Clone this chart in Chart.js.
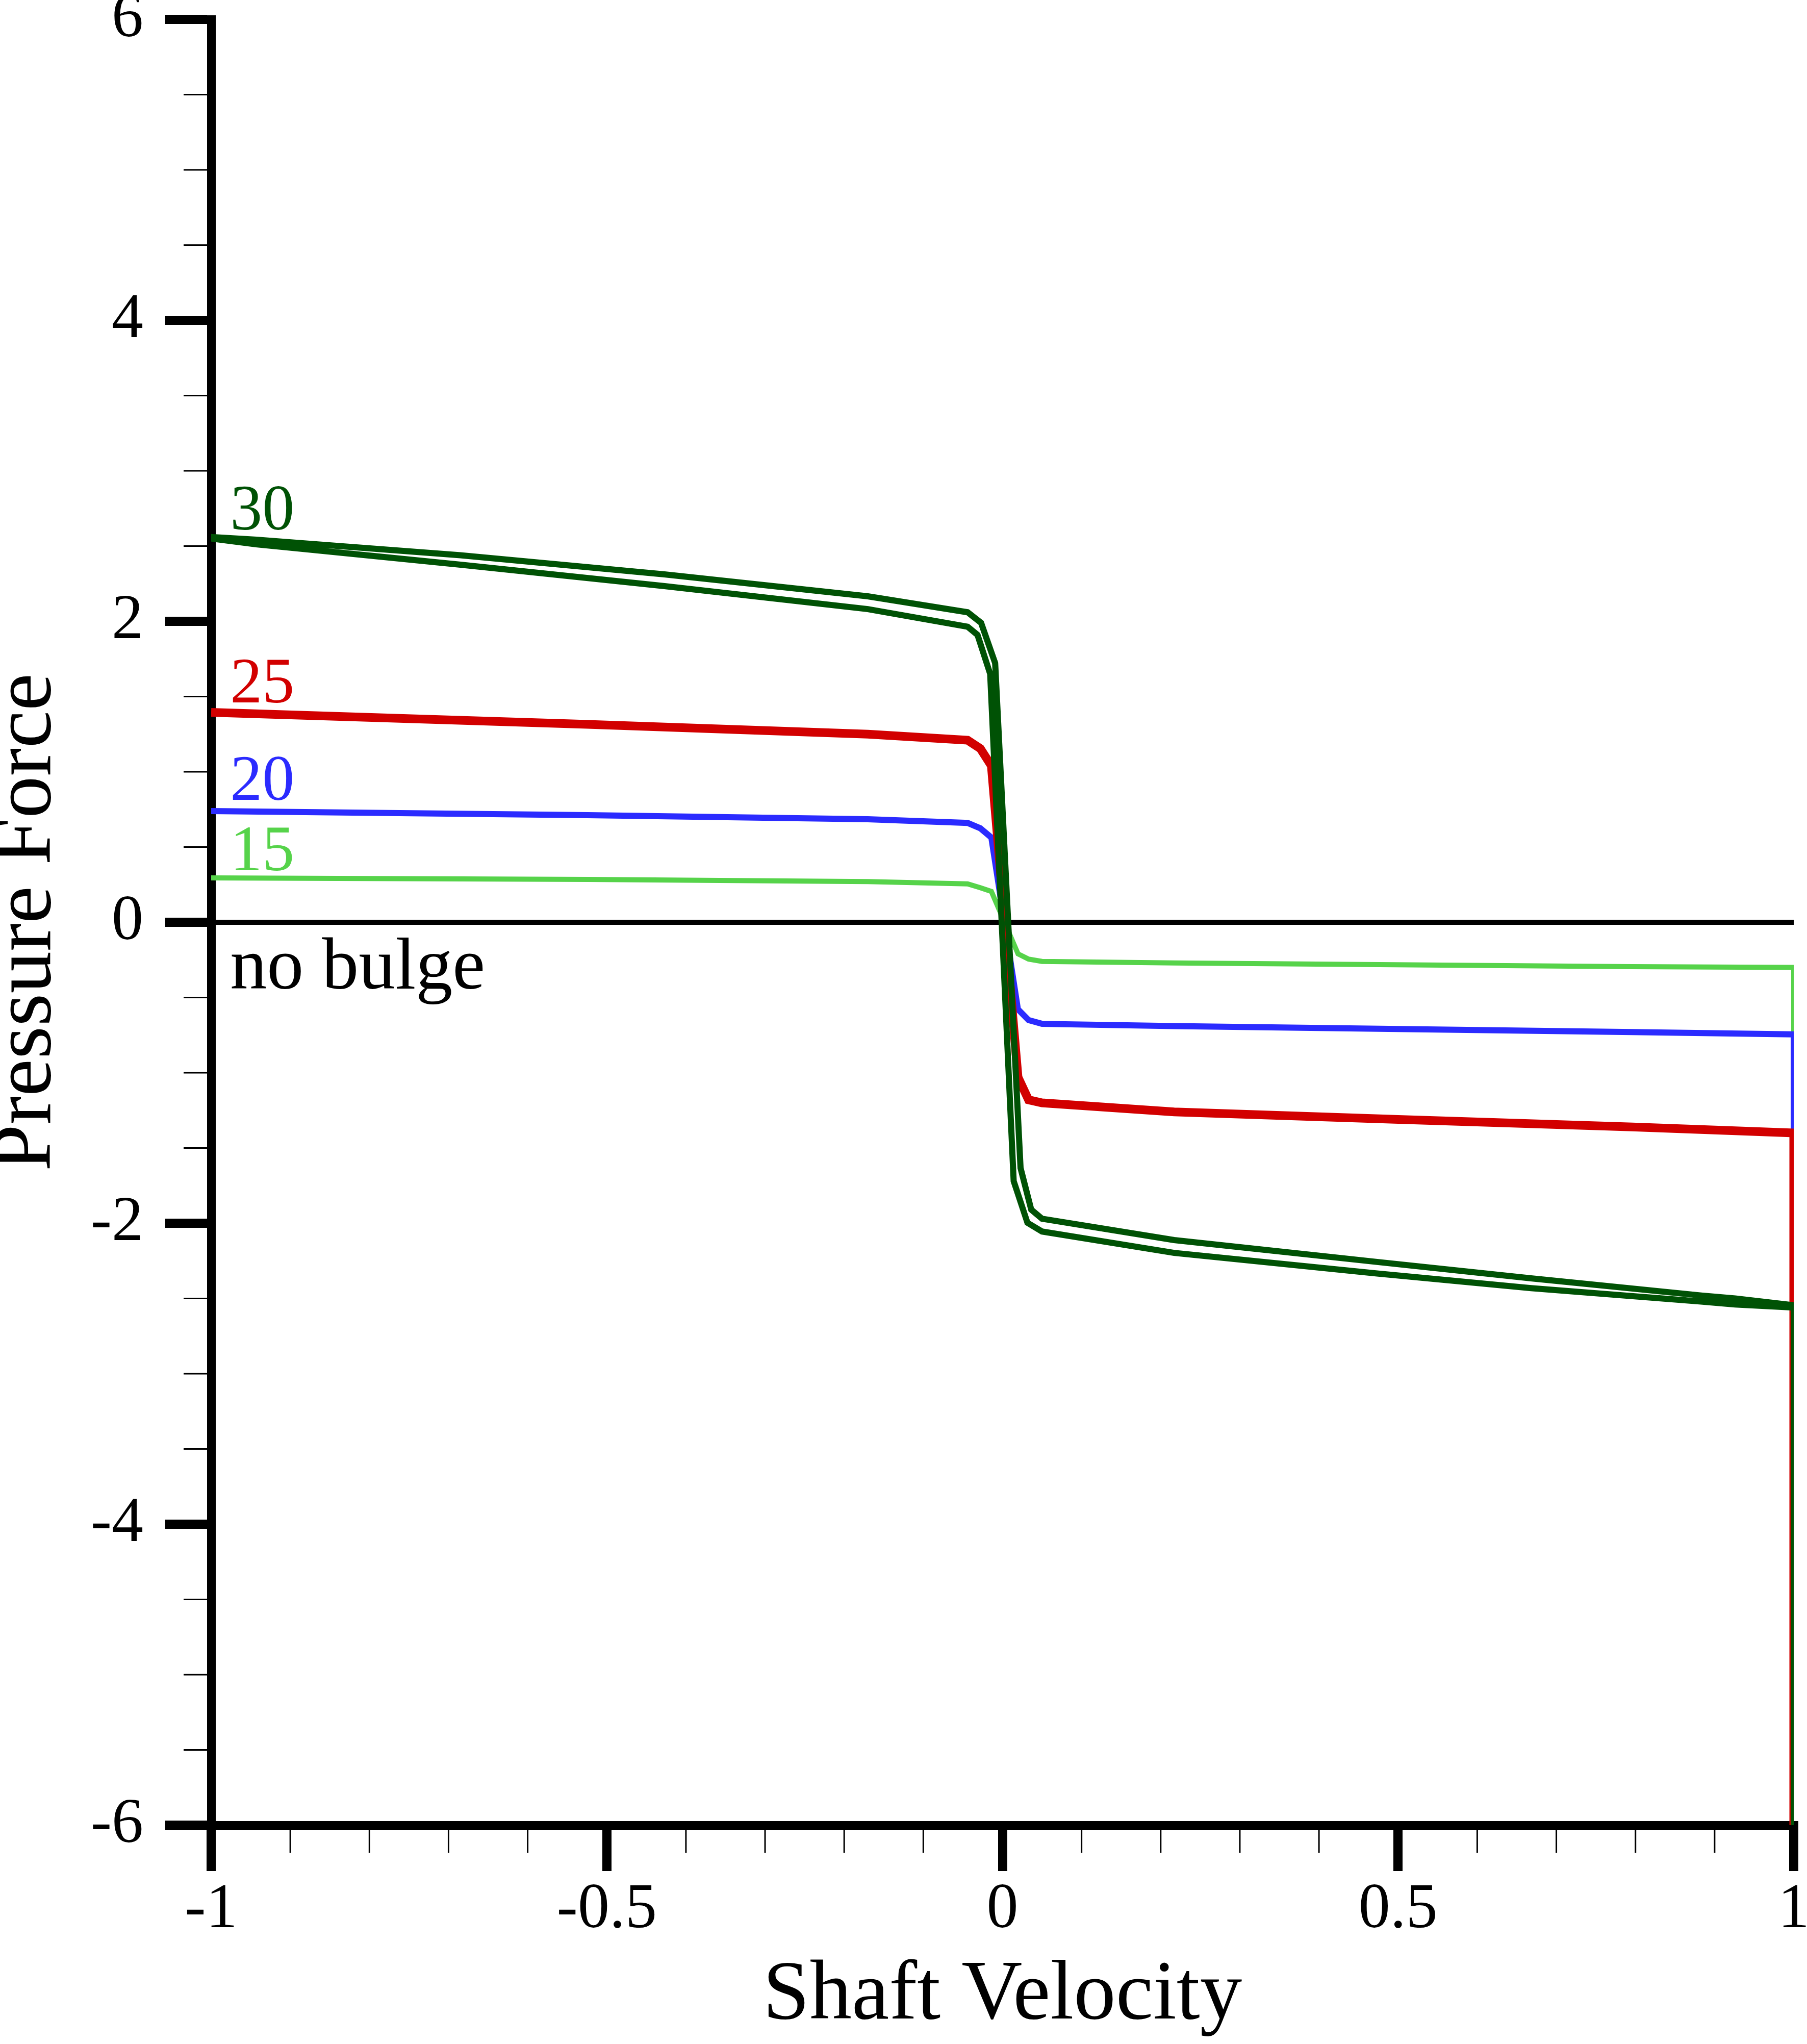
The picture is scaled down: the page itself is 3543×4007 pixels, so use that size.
<!DOCTYPE html>
<html>
<head>
<meta charset="utf-8">
<script src="https://cdn.jsdelivr.net/npm/chart.js@4.4.1/dist/chart.umd.min.js"></script>
<style>
  html, body { margin:0; padding:0; background:#fff; }
  canvas { display:block; }
</style>
</head>
<body>
<canvas id="myChart" width="3543" height="4007" style="width:3543px;height:4007px"></canvas>
<script>
// bulge 30 : closed loop, starts with the drop at v=1
var velocity30 = [1, 1, 0.926, 0.883, 0.668, 0.475, 0.217, 0.05, 0.0316, 0.0142, -0.0155, -0.0315, -0.044, -0.17, -0.427, -0.685, -0.878, -0.943, -1,
                  -1, -0.943, -0.878, -0.685, -0.427, -0.17, -0.044, -0.027, -0.0092, 0.0229, 0.0364, 0.05, 0.217, 0.475, 0.668, 0.883, 0.926, 1];
var force30 = [-6, -2.56, -2.54, -2.52, -2.431, -2.335, -2.197, -2.055, -1.997, -1.72, 1.65, 1.91, 1.964, 2.081, 2.234, 2.376, 2.478, 2.512, 2.55,
               2.56, 2.542, 2.516, 2.439, 2.312, 2.166, 2.06, 1.99, 1.722, -1.633, -1.91, -1.97, -2.112, -2.258, -2.366, -2.48, -2.50, -2.545];

var velocity25 = [-1, -0.524, -0.17, -0.044, -0.028, -0.014, 0.0197, 0.033, 0.05, 0.217, 0.5, 0.796, 1, 1];
var force25 = [1.395, 1.315, 1.25, 1.21, 1.155, 1.04, -1.03, -1.18, -1.2, -1.26, -1.31, -1.36, -1.40, -6];

var velocity20 = [-1, -0.524, -0.17, -0.044, -0.028, -0.014, 0.0195, 0.033, 0.05, 0.217, 0.796, 1, 1];
var force20 = [0.739, 0.712, 0.685, 0.66, 0.625, 0.563, -0.578, -0.65, -0.675, -0.69, -0.73, -0.745, -6];

var velocity15 = [-1, -0.524, -0.17, -0.044, -0.028, -0.014, 0.0197, 0.033, 0.05, 0.217, 0.796, 1, 1];
var force15 = [0.295, 0.285, 0.27, 0.255, 0.23, 0.205, -0.21, -0.245, -0.26, -0.27, -0.295, -0.30, -6];

var velocity0 = [-1, 1];
var force0 = [0, 0];

var xTickValues = [-1, -0.5, 0, 0.5, 1];
var xTickLabels = ['-1', '-0.5', '0', '0.5', '1'];
var yTickValues = [-6, -4, -2, 0, 2, 4, 6];
var yTickLabels = ['-6', '-4', '-2', '0', '2', '4', '6'];
var xMinorTicks = [-0.9, -0.8, -0.7, -0.6, -0.4, -0.3, -0.2, -0.1, 0.1, 0.2, 0.3, 0.4, 0.6, 0.7, 0.8, 0.9];
var yMinorTicks = [-5.5, -5, -4.5, -3.5, -3, -2.5, -1.5, -1, -0.5, 0.5, 1, 1.5, 2.5, 3, 3.5, 4.5, 5, 5.5];

var labelText = ['30', '25', '20', '15', 'no bulge'];
var labelY = [2.61, 1.461, 0.813, 0.347, -0.441];
var labelX = -0.976;

var cGreen = '#005205', cRed = '#d20000', cBlue = '#2b2bff', cLight = '#56d34a';
var labelColor = [cGreen, cRed, cBlue, cLight, '#000'];

Chart.defaults.font.family = '"Liberation Serif", serif';

function pts(xs, ys) {
  return xs.map(function (x, i) { return {x: x, y: ys[i]}; });
}

var minorTicks = {
  id: 'minorTicks',
  afterDraw: function (chart) {
    var ctx = chart.ctx, a = chart.chartArea, xs = chart.scales.x, ys = chart.scales.y;
    ctx.save();
    ctx.strokeStyle = '#000';
    ctx.lineWidth = 3;
    ctx.beginPath();
    yMinorTicks.forEach(function (v) {
      var p = ys.getPixelForValue(v);
      ctx.moveTo(a.left - 8, p); ctx.lineTo(a.left - 54, p);
    });
    xMinorTicks.forEach(function (v) {
      var p = xs.getPixelForValue(v);
      ctx.moveTo(p, a.bottom + 8); ctx.lineTo(p, a.bottom + 54);
    });
    ctx.stroke();
    ctx.restore();
  }
};

var curveLabels = {
  id: 'curveLabels',
  afterDatasetsDraw: function (chart) {
    var ctx = chart.ctx, xs = chart.scales.x, ys = chart.scales.y;
    ctx.save();
    ctx.textAlign = 'left';
    ctx.textBaseline = 'alphabetic';
    labelText.forEach(function (t, i) {
      ctx.font = (i == 4 ? '144px' : '126px') + ' "Liberation Serif"';
      ctx.fillStyle = labelColor[i];
      ctx.fillText(t, xs.getPixelForValue(labelX), ys.getPixelForValue(labelY[i]));
    });
    ctx.restore();
  }
};

function line(xs, ys, color, w) {
  return {data: pts(xs, ys), borderColor: color, backgroundColor: color, borderWidth: w,
          showLine: true, pointRadius: 0, tension: 0, fill: false};
}

new Chart(document.getElementById('myChart'), {
  type: 'scatter',
  data: {
    datasets: [
      line(velocity30, force30, cGreen, 12),
      line(velocity25, force25, cRed, 17),
      line(velocity20, force20, cBlue, 12),
      line(velocity15, force15, cLight, 10),
      line(velocity0, force0, '#000', 10)
    ]
  },
  options: {
    responsive: false,
    animation: false,
    devicePixelRatio: 1,
    layout: {padding: {top: 38, right: 26, bottom: 0, left: 0}},
    plugins: {legend: {display: false}, tooltip: {enabled: false}},
    scales: {
      x: {
        type: 'linear', position: 'bottom', min: -1, max: 1,
        afterBuildTicks: function (s) { s.ticks = xTickValues.map(function (v) { return {value: v}; }); },
        afterFit: function (s) { s.height = 429; s.paddingLeft = 0; s.paddingRight = 0; },
        ticks: {
          color: '#000', font: {size: 124, lineHeight: 1.2}, padding: 3,
          autoSkip: false, maxRotation: 0,
          callback: function (v, i) { return xTickLabels[i]; }
        },
        grid: {drawOnChartArea: false, tickLength: 90, tickWidth: 18, tickColor: '#000', lineWidth: 18, color: '#000'},
        border: {width: 17, color: '#000'},
        title: {display: true, text: 'Shaft Velocity', color: '#000',
                font: {size: 165, lineHeight: 0.6}, padding: {top: 0, bottom: 44}}
      },
      y: {
        type: 'linear', position: 'left', min: -6, max: 6,
        afterBuildTicks: function (s) { s.ticks = yTickValues.map(function (v) { return {value: v}; }); },
        afterFit: function (s) { s.width = 414; s.paddingTop = 0; s.paddingBottom = 0; },
        ticks: {
          color: '#000', font: {size: 124, lineHeight: 1.2}, padding: 43,
          callback: function (v, i) { return yTickLabels[i]; }
        },
        grid: {drawOnChartArea: false, tickLength: 90, tickWidth: 18, tickColor: '#000', lineWidth: 18, color: '#000'},
        border: {width: 17, color: '#000'},
        title: {display: true, text: 'Pressure Force', color: '#000',
                font: {size: 165, lineHeight: 0.6}, padding: {top: 5, bottom: 0}}
      }
    }
  },
  plugins: [minorTicks, curveLabels]
});
</script>
</body>
</html>
